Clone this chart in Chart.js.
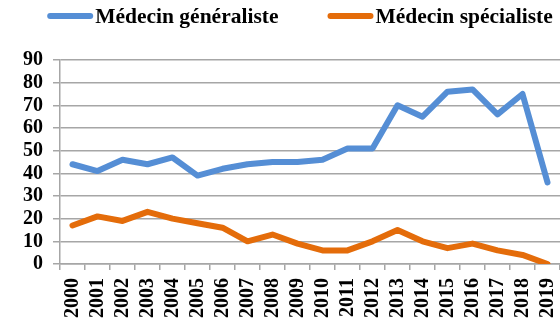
<!DOCTYPE html>
<html>
<head>
<meta charset="utf-8">
<script src="https://cdn.jsdelivr.net/npm/chart.js@4/dist/chart.umd.min.js"></script>
<style>
  html, body { margin: 0; padding: 0; background: #fff; }
  #wrap { width: 560px; height: 324px; }
</style>
</head>
<body>
<div id="wrap"><canvas id="c"></canvas></div>
<script>
// Nombre de médecins par année
const years = ['2000','2001','2002','2003','2004','2005','2006','2007','2008','2009',
               '2010','2011','2012','2013','2014','2015','2016','2017','2018','2019'];
const generalistes = [44, 41, 46, 44, 47, 39, 42, 44, 45, 45, 46, 51, 51, 70, 65, 76, 77, 66, 75, 36];
const specialistes = [17, 21, 19, 23, 20, 18, 16, 10, 13, 9, 6, 6, 10, 15, 10, 7, 9, 6, 4, 0];
const yTicks = [0, 10, 20, 30, 40, 50, 60, 70, 80, 90];

const gridColor = '#A6A6A6';
const serif = '"Liberation Serif", "Times New Roman", serif';

// Legend drawn across the top: a short thick line followed by the series name
const topLegend = {
  id: 'topLegend',
  afterDraw(chart) {
    const ctx = chart.ctx;
    const lineLen = 46, textGap = 2, itemGap = 49, midY = 16;
    ctx.save();
    ctx.font = 'bold 21.5px ' + serif;
    ctx.textBaseline = 'middle';
    ctx.textAlign = 'left';
    const items = chart.data.datasets.map(ds => ({
      text: ds.label,
      color: ds.borderColor,
      w: ctx.measureText(ds.label).width
    }));
    let total = itemGap * (items.length - 1);
    items.forEach(it => { total += lineLen + textGap + it.w; });
    let x = chart.width / 2 + 20 - total / 2;
    items.forEach(it => {
      ctx.strokeStyle = it.color;
      ctx.lineWidth = 6;
      ctx.lineCap = 'round';
      ctx.beginPath();
      ctx.moveTo(x + 3, midY);
      ctx.lineTo(x + lineLen - 3, midY);
      ctx.stroke();
      ctx.fillStyle = '#000';
      ctx.fillText(it.text, x + lineLen + textGap, midY + 1);
      x += lineLen + textGap + it.w + itemGap;
    });
    ctx.restore();
  }
};

new Chart(document.getElementById('c'), {
  type: 'line',
  data: {
    labels: years,
    datasets: [
      {
        label: 'Médecin généraliste',
        data: generalistes,
        borderColor: '#558ED5',
        backgroundColor: '#558ED5',
        borderWidth: 6,
        borderCapStyle: 'round',
        borderJoinStyle: 'round',
        pointRadius: 0,
        tension: 0
      },
      {
        label: 'Médecin spécialiste',
        data: specialistes,
        borderColor: '#E46C0A',
        backgroundColor: '#E46C0A',
        borderWidth: 6,
        borderCapStyle: 'round',
        borderJoinStyle: 'round',
        pointRadius: 0,
        tension: 0
      }
    ]
  },
  plugins: [topLegend],
  options: {
    responsive: true,
    maintainAspectRatio: false,
    animation: false,
    layout: { padding: { left: 22, right: 0, top: 60, bottom: 0 } },
    plugins: {
      tooltip: { enabled: false },
      legend: { display: false }
    },
    scales: {
      x: {
        offset: true,
        afterFit: (s) => { s.paddingLeft = 0; s.paddingRight = 0; s.height = 60; },
        grid: {
          offset: true,
          drawOnChartArea: false,
          drawTicks: true,
          tickLength: 6,
          color: gridColor,
          lineWidth: 1.5
        },
        border: { color: gridColor, width: 1.5 },
        ticks: {
          autoSkip: false,
          minRotation: 90,
          maxRotation: 90,
          padding: 8,
          color: '#000',
          font: { family: serif, size: 20, weight: 'bold' }
        }
      },
      y: {
        min: yTicks[0],
        max: yTicks[yTicks.length - 1],
        afterFit: (s) => { s.width = 38; s.paddingTop = 0; s.paddingBottom = 0; },
        afterBuildTicks: (axis) => { axis.ticks = yTicks.map(v => ({ value: v })); },
        grid: {
          color: gridColor,
          lineWidth: 1.5,
          tickLength: 7
        },
        border: { color: gridColor, width: 1.5 },
        ticks: {
          autoSkip: false,
          padding: 10,
          color: '#000',
          font: { family: serif, size: 20, weight: 'bold' }
        }
      }
    }
  }
});
</script>
</body>
</html>
